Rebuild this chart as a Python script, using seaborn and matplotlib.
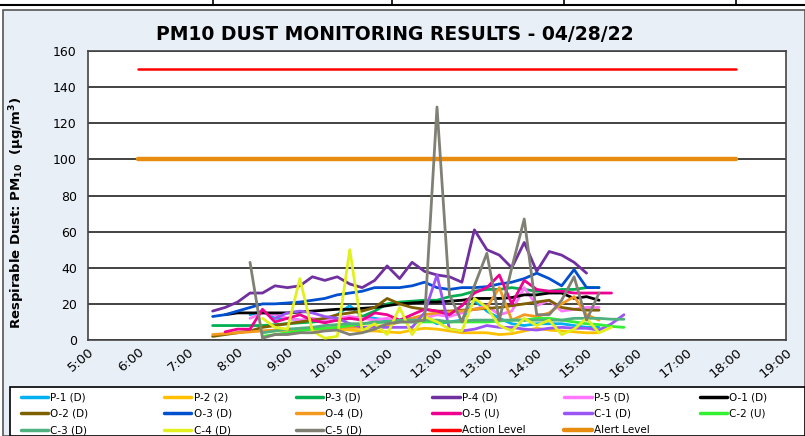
import numpy as np
import pandas as pd
import seaborn as sns
import matplotlib.pyplot as plt
from matplotlib.lines import Line2D
from matplotlib.patches import Rectangle

# sample times (15 min readings)
times = ['7:30', '7:45', '8:00', '8:15', '8:30', '8:45', '9:00', '9:15', '9:30', '9:45',
         '10:00', '10:15', '10:30', '10:45', '11:00', '11:15', '11:30', '11:45', '12:00', '12:15',
         '12:30', '12:45', '13:00', '13:15', '13:30', '13:45', '14:00', '14:15', '14:30', '14:45',
         '15:00', '15:15', '15:30', '15:45']
N = None

p1 = [N, N, N, 14, 16, 12, 12, 11, 10, 11, 14, 19, 13, 12, 11, 11, 12, 13, 9, 10,
      11, 22, 16, 12, 9, 8, 9, 9, 9, 8, 7, 7, N, N]
p2 = [N, N, N, N, 5, 5, 5.5, 5.5, 6, 6, 6, 5.5, 5, 5, 4.5, 4, 5.5, 6.5, 6, 5,
      4, 4, 4, 3, 3.5, 5, 6.5, 5.5, 5, 4.5, 4, 4, N, N]
p3 = [8, 8, 8, 8, 8, 8.5, 9, 9.5, 10, 10.5, 11, 12, 13, 16, 20, 21, 21.5, 22, 22, 24,
      25, 27, 28, 28, 29, 28, 27, 27, 28, 28, 29, 29, N, N]
p4 = [16, 18, 21, 26, 26, 30, 29, 30, 35, 33, 35, 31, 29, 33, 41, 34, 43, 38, 36, 35,
      32, 61, 50, 47, 40, 54, 38, 49, 47, 43, 37, N, N, N]
p5 = [N, N, N, 12, 15, 14, 12, 11, 12, 11, 12, 13, 12, 11, 12, 10, 11, 12, 14, 13,
      15, 17, 19, 14, 16, 29, 19, 22, 16, 17, 18, 18, N, N]
o1 = [N, 14, 15, 15, 15, 15, 15, 15.5, 16, 16.5, 17, 17, 17.5, 18, 19, 20, 20.5, 21, 21, 21.5,
      22, 23, 23, 23, 23.5, 25, 25, 26, 26, 23, 24, 22, N, N]
o2 = [2, 3, 4, 5, 7, 8, 9, 10, 11, 12, 14, 15, 16, 18, 23, 20, 18, 17, 16, 16,
      16.5, 17, 17.5, 18, 19, 20, 21, 22, 18, 17, 16.5, 16.5, N, N]
o3 = [13, 14, 16, 18, 20, 20, 20.5, 21, 22, 23, 25, 26, 27, 29, 29, 29, 30, 32, 29, 28,
      29, 29, 29.5, 31, 32, 34, 37, 34, 30, 39, 29, 29, N, N]
o4 = [3, 3.5, 4, 4.5, 5, 5.5, 5.5, 6, 6, 6.5, 7, 7, 7, 7.5, 8, 10, 12, 14, 15, 15.5,
      16, 17, 18, 29, 11, 14, 13, 15, 20, 24, 14, 11, N, N]
o5 = [N, 4.5, 6, 6, 17, 10, 12, 14, 11, 9.5, 11, 12, 11, 15, 14, 11, 14, 17, 16, 14,
      19, 26, 29, 36, 20, 33, 28, 27, 27, 26, 26, 26, 26, N]
c1 = [N, N, N, N, N, 12, 15, 16, 15, 13, 12, 9, 7, 7, 7, 7, 7, 15, 36, 6,
      5, 6, 8, 7, 7, 6, 5.5, 6.5, 7, 6.5, 6.5, 5.5, 9, 14]
c2 = [N, N, N, N, 2, 3, 4, 5, 6, 6.5, 7, 8, 9, 9.5, 10, 10, 10, 10, 10, 10,
      10, 10, 10, 10.5, 11, 11, 12, 12, 11, 10, 9, 8.5, 7.5, 7]
c3 = [N, N, N, N, 4, 5, 6, 6.5, 7, 8, 8.5, 9, 9, 10, 10, 11, 11, 11, 11, 10,
      10.5, 11, 11, 11, 11, 11, 11, 11, 11, 12, 12, 12, 11.5, 11.5]
c4 = [N, N, N, N, 12, 7, 6, 34, 5, 1, 2, 50, 5, 9, 3, 18, 3, 13, 10, 6,
      5, 23, 18, 8, 5, 12, 8, 11, 3, 6, 12, 4, 7, N]
c5 = [N, N, N, 43, 1, 3, 3, 4, 4, 5, 5.5, 3, 4, 6, 9, 10, 10, 11, 129, 25,
      10, 30, 48, 11, 40, 67, 14, 14, 22, 35, 11, 26, N, N]

level_times = ['6:00', '18:00']
action_level = [150, 150]
alert_level = [100, 100]

names = ['P-1 (D)', 'P-2 (2)', 'P-3 (D)', 'P-4 (D)', 'P-5 (D)', 'O-1 (D)',
         'O-2 (D)', 'O-3 (D)', 'O-4 (D)', 'O-5 (U)', 'C-1 (D)', 'C-2 (U)',
         'C-3 (D)', 'C-4 (D)', 'C-5 (D)']
series = [p1, p2, p3, p4, p5, o1, o2, o3, o4, o5, c1, c2, c3, c4, c5]
colors = ['#00B0F0', '#FFC000', '#00B050', '#7030A0', '#FF77FF', '#000000',
          '#7F6000', '#0050D0', '#F39A1E', '#EE0090', '#9B55F5', '#33F033',
          '#4FB080', '#E2F01E', '#808074']
action_color = '#FF0000'
alert_color = '#E88C10'


def to_hours(t):
    h, m = t.split(':')
    return int(h) + int(m) / 60


rows = []
for name, vals in zip(names, series):
    for t, v in zip(times, vals):
        if v is not None:
            rows.append({'hour': to_hours(t), 'value': v, 'station': name})
df = pd.DataFrame(rows)
levels = pd.DataFrame({'hour': [to_hours(t) for t in level_times] * 2,
                       'value': action_level + alert_level,
                       'station': ['Action Level'] * 2 + ['Alert Level'] * 2})

sns.set_style('white')
plt.rcParams['font.family'] = ['Liberation Sans Narrow', 'DejaVu Sans']
plt.rcParams['text.color'] = 'black'
plt.rcParams['xtick.color'] = 'black'
plt.rcParams['ytick.color'] = 'black'
plt.rcParams['axes.labelcolor'] = 'black'
bg = '#E9EFF7'

fig = plt.figure(figsize=(8.05, 4.36), dpi=100)
fig.patch.set_facecolor('white')
# chart frame + cropped table border at the top
fig.patches.append(Rectangle((0.004, 0), 0.996, 0.978, transform=fig.transFigure,
                             facecolor=bg, edgecolor='#555555', lw=1.2, zorder=-5))
fig.add_artist(Line2D([0, 1], [0.989, 0.989], transform=fig.transFigure, color='black', lw=1.5))
for xv in [0.265, 0.487, 0.700, 0.914]:
    fig.add_artist(Line2D([xv, xv], [0.989, 1], transform=fig.transFigure, color='black', lw=1.2))

ax = fig.add_axes([0.1093, 0.2202, 0.8671, 0.6628])
ax.set_facecolor('white')

sns.lineplot(data=levels[levels['station'] == 'Alert Level'], x='hour', y='value',
             color=alert_color, linewidth=3.2, ax=ax, legend=False, zorder=2)
sns.lineplot(data=levels[levels['station'] == 'Action Level'], x='hour', y='value',
             color=action_color, linewidth=1.8, ax=ax, legend=False, zorder=2)
sns.lineplot(data=df, x='hour', y='value', hue='station', hue_order=names,
             palette=colors, linewidth=2, ax=ax, legend=False, zorder=3,
             estimator=None)

ax.set_xlim(5, 19)
ax.set_ylim(0, 160)
ax.set_yticks(range(0, 161, 20))
ax.set_xticks(range(5, 20))
ax.set_xticklabels([f'{h}:00' for h in range(5, 20)], rotation=40, ha='right',
                   rotation_mode='anchor', fontsize=9.5)
ax.tick_params(axis='y', labelsize=9, length=0, pad=8)
ax.tick_params(axis='x', length=0, pad=4)
ax.yaxis.grid(True, color='#222222', lw=1.2)
ax.set_axisbelow(True)
for s in ax.spines.values():
    s.set_color('#444444')
    s.set_linewidth(1.2)
ax.set_xlabel('')
ax.set_ylabel('Respirable Dust: PM$_{\\mathbf{10}}$  (µg/m$^{\\mathbf{3}}$)',
              fontsize=9.5, fontweight='bold', family=['DejaVu Sans'])
ax.yaxis.set_label_coords(-0.088, 0.44)

fig.text(0.49, 0.92, 'PM10 DUST MONITORING RESULTS - 04/28/22', ha='center', va='center',
         fontsize=13.5, fontweight='bold', family=['DejaVu Sans'])

# legend box, one legend per column so the columns are evenly spaced
fig.patches.append(Rectangle((0.012, 0), 0.988, 0.112, transform=fig.transFigure,
                             facecolor='white', edgecolor='black', lw=1.2, zorder=1))
all_names = names + ['Action Level', 'Alert Level']
all_colors = colors + [action_color, alert_color]
handles = [Line2D([], [], color=c, lw=2.5 if n != 'Alert Level' else 3.2)
           for n, c in zip(all_names, all_colors)]
col_x = [0.023, 0.201, 0.364, 0.534, 0.698, 0.866]
for j, x0 in enumerate(col_x):
    idx = [i for i in range(j, len(all_names), 6)]
    leg = fig.legend([handles[i] for i in idx], [all_names[i] for i in idx],
                     loc='upper left', bbox_to_anchor=(x0, 0.106),
                     frameon=False, fontsize=7.5, handlelength=2.6,
                     handletextpad=0.2, labelspacing=0.62, borderaxespad=0.0,
                     borderpad=0.25)

fig.savefig('out.png', dpi=100, facecolor=fig.get_facecolor())
